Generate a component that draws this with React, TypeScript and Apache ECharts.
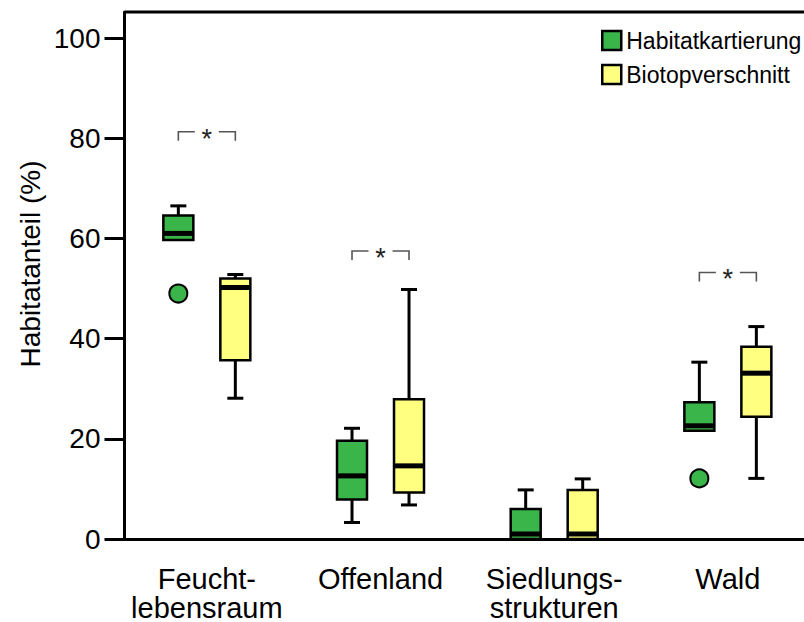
import React, { useEffect, useRef } from "react";
import * as echarts from "echarts";

const categories = ["Feucht-\nlebensraum", "Offenland", "Siedlungs-\nstrukturen", "Wald"];
const seriesNames = ["Habitatkartierung", "Biotopverschnitt"];
// [min, q1, median, q3, max]
const habitatkartierung = [
  [59.7, 59.7, 61.0, 64.6, 66.5],
  [3.3, 7.9, 12.6, 19.6, 22.1],
  [0, 0, 1.0, 6.0, 9.8],
  [21.6, 21.6, 22.6, 27.3, 35.3],
];
const biotopverschnitt = [
  [28.1, 35.7, 50.2, 52.0, 52.8],
  [6.8, 9.3, 14.6, 27.9, 49.8],
  [0, 0, 1.0, 9.8, 12.0],
  [12.1, 24.4, 33.1, 38.4, 42.4],
];
const outliersHabitat = [
  [0, 49.0],
  [3, 12.1],
];
const significance = [
  [0, 81.3],
  [1, 57.5],
  [3, 53.2],
];
const yTicks = [0, 20, 40, 60, 80, 100];

const FONT = "'Liberation Sans', Arial, sans-serif";
const GREEN = "#3ab54a";
const YELLOW = "#ffff80";
const OFF = 28.5;
const HALF_BOX = 15;
const HALF_CAP = 8;

function boxRenderer(color: string, off: number) {
  return (params: any, api: any) => {
    const cat = api.value(0);
    const vals = [1, 2, 3, 4, 5].map((i) => api.value(i));
    const ys = vals.map((v) => api.coord([cat, v])[1]);
    const x = api.coord([cat, vals[0]])[0] + off;
    const [yMin, yQ1, yMed, yQ3, yMax] = ys;
    const ls = { stroke: "#000", lineWidth: 3 };
    const children: any[] = [];
    if (yMax < yQ3 - 0.5) {
      children.push({ type: "line", shape: { x1: x, y1: yQ3, x2: x, y2: yMax }, style: ls });
      children.push({ type: "line", shape: { x1: x - HALF_CAP, y1: yMax, x2: x + HALF_CAP, y2: yMax }, style: ls });
    }
    if (yMin > yQ1 + 0.5) {
      children.push({ type: "line", shape: { x1: x, y1: yQ1, x2: x, y2: yMin }, style: ls });
      children.push({ type: "line", shape: { x1: x - HALF_CAP, y1: yMin, x2: x + HALF_CAP, y2: yMin }, style: ls });
    }
    children.push({
      type: "rect",
      shape: { x: x - HALF_BOX, y: yQ3, width: HALF_BOX * 2, height: yQ1 - yQ3 },
      style: { fill: color, stroke: "#000", lineWidth: 2.5 },
    });
    children.push({
      type: "line",
      shape: { x1: x - HALF_BOX, y1: yMed, x2: x + HALF_BOX, y2: yMed },
      style: { stroke: "#000", lineWidth: 5 },
    });
    return { type: "group", children };
  };
}

function bracketRenderer(params: any, api: any) {
  const p = api.coord([api.value(0), api.value(1)]);
  const x = p[0];
  const y = p[1];
  const st = { stroke: "#555", lineWidth: 1.6, fill: "none" };
  return {
    type: "group",
    children: [
      { type: "polyline", shape: { points: [[x - OFF, y + 9], [x - OFF, y], [x - 12, y]] }, style: st },
      { type: "polyline", shape: { points: [[x + 12, y], [x + OFF, y], [x + OFF, y + 9]] }, style: st },
      {
        type: "text",
        x: x,
        y: y + 7,
        style: { text: "*", fontSize: 27, fontFamily: FONT, fill: "#222", align: "center", verticalAlign: "middle" },
      },
    ],
  };
}

export default function App() {
  const ref = useRef<HTMLDivElement>(null);
  useEffect(() => {
    document.body.style.margin = "0";
    const chart = echarts.init(ref.current!, null, { renderer: "svg" });
    const axisLine = { color: "#000", width: 3 };
    chart.setOption({
      animation: false,
      backgroundColor: "#fff",
      grid: { left: 120, right: -10.7, top: 12, bottom: 83, outerBoundsMode: "none" },
      legend: {
        orient: "vertical",
        left: 596,
        top: 24,
        itemWidth: 19,
        itemHeight: 19,
        itemGap: 11,
        textStyle: { fontSize: 23, fontFamily: FONT, color: "#000", lineHeight: 23 },
        data: [
          { name: seriesNames[0], icon: "rect", itemStyle: { color: GREEN, borderColor: "#000", borderWidth: 2.5 } },
          { name: seriesNames[1], icon: "rect", itemStyle: { color: YELLOW, borderColor: "#000", borderWidth: 2.5 } },
        ],
      },
      xAxis: {
        type: "category",
        data: categories,
        axisLine: { lineStyle: axisLine },
        axisTick: { alignWithLabel: true, length: 18, lineStyle: axisLine },
        axisLabel: { fontSize: 29, lineHeight: 29, color: "#000", margin: 25, fontFamily: FONT, interval: 0 },
        splitLine: { show: false },
      },
      yAxis: {
        type: "value",
        min: 0,
        max: 105.2,
        interval: 20,
        offset: -4.5,
        axisLine: { show: true, lineStyle: axisLine },
        axisTick: { show: true, length: 20, lineStyle: axisLine, customValues: yTicks },
        axisLabel: { fontSize: 28, color: "#000", margin: 24, fontFamily: FONT, customValues: yTicks },
        splitLine: { show: false },
      },
      series: [
        {
          name: seriesNames[0],
          type: "custom",
          renderItem: boxRenderer(GREEN, -OFF),
          data: habitatkartierung.map((d, i) => [i, ...d]),
          encode: { x: 0, y: [1, 2, 3, 4, 5] },
          z: 3,
        },
        {
          name: seriesNames[1],
          type: "custom",
          renderItem: boxRenderer(YELLOW, OFF),
          data: biotopverschnitt.map((d, i) => [i, ...d]),
          encode: { x: 0, y: [1, 2, 3, 4, 5] },
          z: 3,
        },
        {
          name: "Ausreißer",
          type: "scatter",
          data: outliersHabitat,
          symbol: "circle",
          symbolSize: 18,
          symbolOffset: [-OFF, 0],
          itemStyle: { color: GREEN, borderColor: "#000", borderWidth: 2, opacity: 1 },
          z: 4,
        },
        {
          name: "Signifikanz",
          type: "custom",
          renderItem: bracketRenderer,
          data: significance,
          encode: { x: 0, y: 1 },
          z: 4,
        },
      ],
      graphic: [
        { type: "line", shape: { x1: 125, y1: 12, x2: 804, y2: 12 }, style: { stroke: "#000", lineWidth: 3 } },
        {
          type: "text",
          x: 30,
          y: 264,
          rotation: Math.PI / 2,
          style: {
            text: "Habitatanteil (%)",
            fontSize: 28,
            fontFamily: FONT,
            fill: "#000",
            align: "center",
            verticalAlign: "middle",
          },
        },
      ],
    });
    return () => chart.dispose();
  }, []);
  return <div ref={ref} style={{ width: 804, height: 622 }} />;
}
